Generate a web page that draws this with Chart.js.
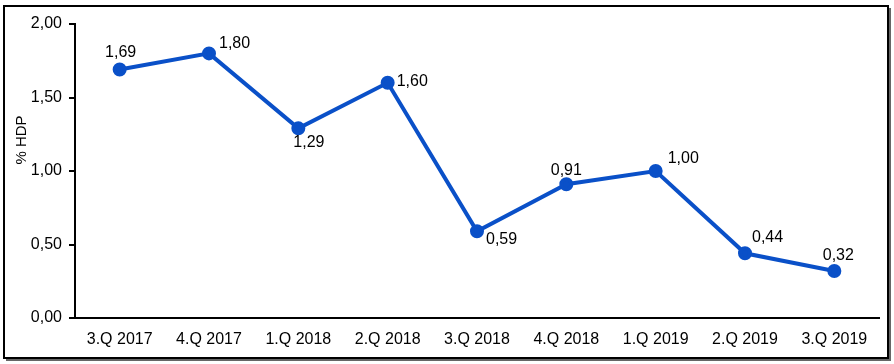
<!DOCTYPE html>
<html>
<head>
<meta charset="utf-8">
<script src="https://cdn.jsdelivr.net/npm/chart.js@4"></script>
<style>
  html, body { margin: 0; padding: 0; background: #fff; }
  #wrap { width: 894px; height: 364px; position: relative; }
</style>
</head>
<body>
<div id="wrap"><canvas id="hdpChart" width="894" height="364"></canvas></div>
<script>
const quarters = ['3.Q 2017', '4.Q 2017', '1.Q 2018', '2.Q 2018', '3.Q 2018', '4.Q 2018', '1.Q 2019', '2.Q 2019', '3.Q 2019'];
const hdpValues = [1.69, 1.80, 1.29, 1.60, 0.59, 0.91, 1.00, 0.44, 0.32];
const yTicks = [0, 0.5, 1.0, 1.5, 2.0];
const axisTitle = '% HDP';

// label placement next to each point: [dx, dy, align]
const labelPlace = [
    [1, -17, 'center'], [10, -10, 'left'], [-5, 14, 'left'],
    [9, -1, 'left'], [9, 8, 'left'], [0, -14, 'center'],
    [12, -12, 'left'], [7, -16, 'left'], [4, -15, 'center']
];

const FONT = 'Arial, "Liberation Sans", sans-serif';
const fmt = v => v.toFixed(2).replace('.', ',');

// ===== Frame, axis title and point labels =====
const decor = {
    id: 'decor',
    beforeDraw(chart) {
        const c = chart.ctx;
        c.save();
        c.fillStyle = '#fff';
        c.fillRect(0, 0, chart.width, chart.height);
        // shadow
        c.strokeStyle = '#666';
        c.lineWidth = 2;
        c.beginPath();
        c.moveTo(890, 8); c.lineTo(890, 360); c.lineTo(6, 360);
        c.stroke();
        // frame
        c.strokeStyle = '#000';
        c.lineWidth = 2;
        c.strokeRect(4, 6, 884, 352);
        c.restore();
    },
    afterDatasetsDraw(chart) {
        const c = chart.ctx;
        const pts = chart.getDatasetMeta(0).data;
        c.save();
        c.fillStyle = '#000';
        c.font = '16px ' + FONT;
        c.textBaseline = 'middle';
        pts.forEach((p, i) => {
            const [dx, dy, align] = labelPlace[i];
            c.textAlign = align;
            c.fillText(fmt(hdpValues[i]), p.x + dx, p.y + dy);
        });
        // y axis title
        c.font = '15px ' + FONT;
        c.translate(22, 140);
        c.rotate(-Math.PI / 2);
        c.textAlign = 'center';
        c.fillText(axisTitle, 0, 0);
        c.restore();
    }
};

new Chart(document.getElementById('hdpChart'), {
    type: 'line',
    data: {
        labels: quarters,
        datasets: [{
            data: hdpValues,
            borderColor: '#0a50c8',
            backgroundColor: '#0a50c8',
            borderWidth: 4,
            pointRadius: 5,
            pointHoverRadius: 5,
            tension: 0
        }]
    },
    options: {
        responsive: false,
        animation: false,
        events: [],
        layout: { padding: { top: 24, right: 15, left: 0, bottom: 0 } },
        plugins: { legend: { display: false }, tooltip: { enabled: false } },
        scales: {
            x: {
                offset: true,
                afterFit: s => { s.height = 46; },
                grid: { display: true, drawOnChartArea: false, drawTicks: false, offset: true },
                border: { display: true, color: '#000', width: 2 },
                ticks: { color: '#000', font: { size: 16, family: FONT }, padding: 12, maxRotation: 0 }
            },
            y: {
                min: 0,
                max: 2,
                afterFit: s => { s.width = 75; },
                afterBuildTicks: s => { s.ticks = yTicks.map(v => ({ value: v })); },
                grid: { drawOnChartArea: false, drawTicks: true, tickLength: 6, color: '#000', lineWidth: 2 },
                border: { display: true, color: '#000', width: 2 },
                ticks: { color: '#000', font: { size: 16, family: FONT }, padding: 7, callback: v => fmt(v) }
            }
        }
    },
    plugins: [decor]
});
</script>
</body>
</html>
